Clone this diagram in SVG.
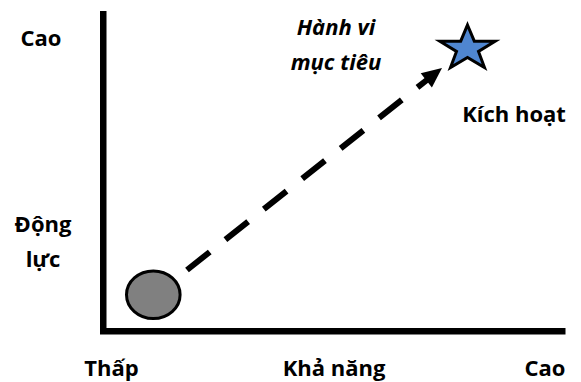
<svg xmlns="http://www.w3.org/2000/svg" width="581" height="382" viewBox="0 0 581 382">
  <style>
    .lbl { font-family: "Open Sans", "Noto Sans", "DejaVu Sans", sans-serif; font-weight: 700; font-size: 22px; fill: #000; text-anchor: middle; }
    .it { font-style: italic; }
    .axis { fill: #000; }
  </style>
  <rect width="581" height="382" fill="#fff"/>

  <!-- axes -->
  <g id="axes">
    <rect class="axis" x="100" y="11" width="6.5" height="322"/>
    <rect class="axis" x="100" y="328" width="465.5" height="6.5"/>
  </g>

  <!-- axis labels -->
  <g id="labels">
    <text class="lbl" x="41" y="46">Cao</text>
    <text class="lbl" x="43" y="232">Động</text>
    <text class="lbl" x="43" y="267">lực</text>
    <text class="lbl" x="111.5" y="375.5">Thấp</text>
    <text class="lbl" x="334" y="375.5">Khả năng</text>
    <text class="lbl" x="545" y="375.5">Cao</text>
  </g>

  <!-- start point -->
  <g id="start">
    <ellipse cx="153.3" cy="294.7" rx="26.8" ry="23.8" fill="#808080" stroke="#000" stroke-width="3"/>
  </g>

  <!-- target behaviour -->
  <g id="target">
    <polygon fill="#4f86d0" stroke="#000" stroke-width="3" stroke-linejoin="miter"
      points="467.5,25 474.3,41.2 495.1,41.2 478.5,51.4 484.5,67.5 467.5,57.5 450.5,67.5 456.5,51.4 439.9,41.2 460.7,41.2"/>
    <text class="lbl it" x="336" y="35">Hành vi</text>
    <text class="lbl it" x="336" y="70">mục tiêu</text>
  </g>

  <g id="trigger">
    <text class="lbl" x="514" y="122">Kích hoạt</text>
  </g>

  <!-- connector -->
  <g id="connectors">
    <line x1="187" y1="270" x2="427.5" y2="79.5" stroke="#000" stroke-width="6" stroke-dasharray="29 20"/>
    <polygon fill="#000" points="442,68 431.9,87.5 420.7,73.3"/>
  </g>
</svg>
